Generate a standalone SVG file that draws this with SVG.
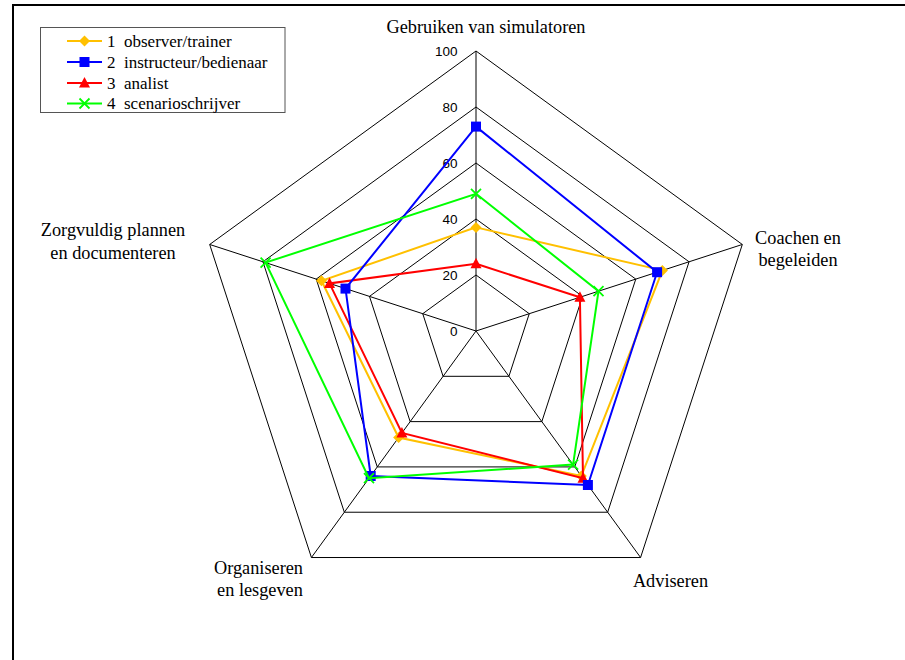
<svg xmlns="http://www.w3.org/2000/svg" width="905" height="660" viewBox="0 0 905 660">
<style>
.lbl{font-family:"Liberation Serif","Times New Roman",serif;font-size:18.3px;fill:#000;text-anchor:middle}
.leg{font-family:"Liberation Serif","Times New Roman",serif;font-size:17px;fill:#000}
.tick{font-family:"Liberation Sans",Arial,sans-serif;font-size:13.5px;fill:#000;text-anchor:end}
.grid{fill:none;stroke:#000;stroke-width:1}
.s1{fill:none;stroke:#FFC000;stroke-width:2}
.s2{fill:none;stroke:#0000FF;stroke-width:2}
.s3{fill:none;stroke:#FF0000;stroke-width:2}
.s4{fill:none;stroke:#00FF00;stroke-width:2}
</style>
<defs>
<polygon id="dia" points="0,-5.5 5.5,0 0,5.5 -5.5,0" fill="#FFC000"/>
<rect id="sq" x="-5" y="-5" width="10" height="10" fill="#0000FF"/>
<polygon id="tri" points="0,-6 5.5,4.5 -5.5,4.5" fill="#FF0000"/>
<path id="xx" d="M-5,-5L5,5M5,-5L-5,5" stroke="#00FF00" stroke-width="1.8" fill="none"/>
</defs>
<rect x="0" y="0" width="905" height="660" fill="#fff"/>
<rect x="13" y="5" width="900" height="670" fill="none" stroke="#000" stroke-width="2"/>

<g id="grid">
<polygon class="grid" points="476,275 529.26,313.7 508.92,376.3 443.08,376.3 422.74,313.7"/>
<polygon class="grid" points="476,219 582.52,296.39 541.83,421.61 410.17,421.61 369.48,296.39"/>
<polygon class="grid" points="476,163 635.78,279.09 574.75,466.91 377.25,466.91 316.22,279.09"/>
<polygon class="grid" points="476,107 689.05,261.78 607.67,512.22 344.33,512.22 262.95,261.78"/>
<polygon class="grid" points="476,51 742.31,244.48 640.58,557.52 311.42,557.52 209.69,244.48"/>
<path class="grid" d="M476,331L476,51M476,331L742.31,244.48M476,331L640.58,557.52M476,331L311.42,557.52M476,331L209.69,244.48"/>
</g>

<g id="ticks">
<text class="tick" x="457.5" y="56">100</text>
<text class="tick" x="457.5" y="112">80</text>
<text class="tick" x="457.5" y="168">60</text>
<text class="tick" x="457.5" y="224">40</text>
<text class="tick" x="457.5" y="280">20</text>
<text class="tick" x="457.5" y="336">0</text>
</g>

<g id="axis-labels">
<text class="lbl" x="486" y="33">Gebruiken van simulatoren</text>
<text class="lbl" x="798" y="244">Coachen en</text>
<text class="lbl" x="798" y="266">begeleiden</text>
<text class="lbl" x="113" y="236">Zorgvuldig plannen</text>
<text class="lbl" x="113" y="259">en documenteren</text>
<text class="lbl" x="258.5" y="574">Organiseren</text>
<text class="lbl" x="260" y="596">en lesgeven</text>
<text class="lbl" x="670.5" y="587">Adviseren</text>
</g>

<g id="connectors">
<g id="series1">
<polygon class="s1" points="476,227.4 662.4,270.4 581.3,476 398.6,437.5 321.5,280.8"/>
<use href="#dia" x="476" y="227.4"/><use href="#dia" x="662.4" y="270.4"/><use href="#dia" x="581.3" y="476"/><use href="#dia" x="398.6" y="437.5"/><use href="#dia" x="321.5" y="280.8"/>
</g>
<g id="series3">
<polygon class="s3" points="476,263.8 579.9,297.3 583,478.2 401.9,432.9 329.5,283.4"/>
<use href="#tri" x="476" y="263.8"/><use href="#tri" x="579.9" y="297.3"/><use href="#tri" x="583" y="478.2"/><use href="#tri" x="401.9" y="432.9"/><use href="#tri" x="329.5" y="283.4"/>
</g>
<g id="series2">
<polygon class="s2" points="476,126.6 657.1,272.2 587.9,485 370.7,476 345.5,288.6"/>
<use href="#sq" x="476" y="126.6"/><use href="#sq" x="657.1" y="272.2"/><use href="#sq" x="587.9" y="485"/><use href="#sq" x="370.7" y="476"/><use href="#sq" x="345.5" y="288.6"/>
</g>
<g id="series4">
<polygon class="s4" points="476,193.8 598.5,291.2 573.1,464.6 369,478.2 265.6,262.6"/>
<use href="#xx" x="476" y="193.8"/><use href="#xx" x="598.5" y="291.2"/><use href="#xx" x="573.1" y="464.6"/><use href="#xx" x="369" y="478.2"/><use href="#xx" x="265.6" y="262.6"/>
</g>
</g>

<g id="legend">
<rect x="40.5" y="27.5" width="244.5" height="85" fill="#fff" stroke="#555" stroke-width="1"/>
<line class="s1" x1="67" y1="41" x2="102" y2="41"/><use href="#dia" x="84.5" y="41"/>
<text class="leg" x="107" y="46.5"><tspan>1</tspan><tspan x="124">observer/trainer</tspan></text>
<line class="s2" x1="67" y1="62" x2="102" y2="62"/><use href="#sq" x="84.5" y="62"/>
<text class="leg" x="107" y="67.5"><tspan>2</tspan><tspan x="124">instructeur/bedienaar</tspan></text>
<line class="s3" x1="67" y1="83" x2="102" y2="83"/><use href="#tri" x="84.5" y="83"/>
<text class="leg" x="107" y="88.5"><tspan>3</tspan><tspan x="124">analist</tspan></text>
<line class="s4" x1="67" y1="103.5" x2="102" y2="103.5"/><use href="#xx" x="84.5" y="103.5"/>
<text class="leg" x="107" y="109"><tspan>4</tspan><tspan x="124">scenarioschrijver</tspan></text>
</g>
</svg>
